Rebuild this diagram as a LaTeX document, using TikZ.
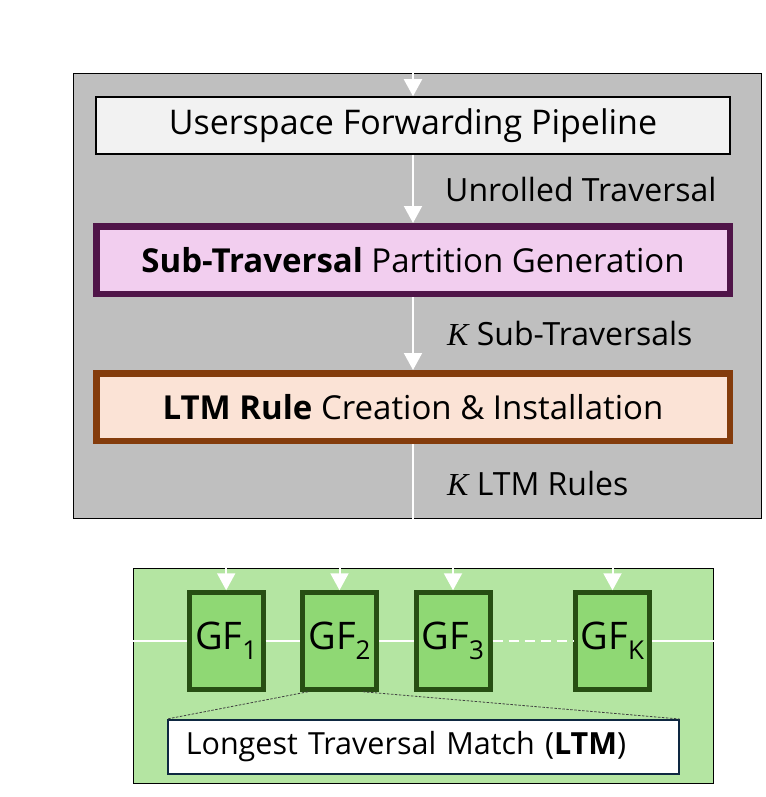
\documentclass[tikz,border=0pt]{standalone}
\usepackage{fontspec}
\setmainfont{Open Sans}
\newfontfamily\kfont{Liberation Serif}
\usetikzlibrary{arrows.meta,calc}

\definecolor{panelgray}{HTML}{BFBFBF}
\definecolor{pipefill}{HTML}{F2F2F2}
\definecolor{subfill}{HTML}{F2CEEF}
\definecolor{subline}{HTML}{501549}
\definecolor{rulefill}{HTML}{FBE3D6}
\definecolor{ruleline}{HTML}{843C0C}
\definecolor{hwgreen}{HTML}{B4E5A2}
\definecolor{gffill}{HTML}{8FD874}
\definecolor{gfline}{HTML}{274E13}
\definecolor{ltmline}{HTML}{0E2841}
\definecolor{zoomline}{HTML}{404040}

\newcommand{\Kvar}{{\kfont\itshape K}}
\newcommand{\gfsub}[1]{GF\raisebox{-10pt}{\fontsize{26}{26}\selectfont #1}}

\tikzset{
  stage/.style={draw, rectangle, minimum width=634pt, minimum height=57pt,
    inner sep=0pt, font=\fontsize{33}{38}\selectfont},
  thickstage/.style={stage, line width=6.5pt, minimum width=633.5pt, minimum height=67.5pt},
  flow/.style={draw=white, line width=2pt, -{Triangle[width=18pt,length=17pt]}},
  plainflow/.style={draw=white, line width=2pt},
  flowlabel/.style={anchor=west, inner sep=0pt, font=\fontsize{32}{36}\selectfont},
  gfbox/.style={draw=gfline, fill=gffill, line width=5pt, minimum width=74pt,
    minimum height=96.5pt, inner sep=0pt, font=\fontsize{38}{42}\selectfont},
  zoomedge/.style={draw=zoomline, line width=0.8pt, dash pattern=on 2.5pt off 1.5pt}
}

\begin{document}
\begin{tikzpicture}[x=1pt,y=-1pt]
\useasboundingbox (0,0) rectangle (765,797);

% control-plane panel
\node[draw, line width=1pt, fill=panelgray, rectangle, inner sep=0pt,
  minimum width=688pt, minimum height=444pt] (panel) at (417,296) {};

\node[stage, fill=pipefill, line width=1.5pt, font=\fontsize{34}{38}\selectfont] (usp) at (413,125.5)
  {Userspace Forwarding Pipeline};
\node[thickstage, draw=subline, fill=subfill] (sub) at (413,260)
  {\textbf{Sub-Traversal} Partition Generation};
\node[thickstage, draw=ruleline, fill=rulefill] (rule) at (413,407)
  {\textbf{LTM Rule} Creation \& Installation};

\coordinate (in) at (413,60);
\coordinate (out) at (413,520);

\draw[flow] (in) -- (usp.north);
\draw[flow] (usp.south) -- (sub.north);
\draw[flow] (sub.south) -- (rule.north);
\draw[plainflow] (rule.south) -- (out);

\node[flowlabel] (l1) at (445,189) {Unrolled Traversal};
\node[flowlabel] (l2) at (447,333) {\Kvar{} Sub-Traversals};
\node[flowlabel] (l3) at (447,483) {\Kvar{} LTM Rules};

% data-plane panel
\node[draw, line width=1pt, fill=hwgreen, rectangle, inner sep=0pt,
  minimum width=580pt, minimum height=215pt] (green) at (423,675.5) {};

\node[gfbox] (gf1) at (226.2,641) {\gfsub{1}};
\node[gfbox] (gf2) at (339.5,641) {\gfsub{2}};
\node[gfbox] (gf3) at (453,641) {\gfsub{3}};
\node[gfbox] (gfk) at (612.5,641) {\gfsub{K}};

\draw[plainflow] (green.west |- gf1.west) -- (gf1.west);
\draw[plainflow] (gf1.east) -- (gf2.west);
\draw[plainflow] (gf2.east) -- (gf3.west);
\draw[plainflow, dash pattern=on 10pt off 6pt] (gf3.east) -- (gfk.west);
\draw[plainflow] (gfk.east) -- (green.east |- gfk.east);

\foreach \g in {gf1,gf2,gf3,gfk}
  \draw[flow] (\g.north |- 0,558) -- (\g.north);

\node[draw=ltmline, fill=white, line width=1.5pt, anchor=north west,
  text width=475pt, align=left, inner xsep=18pt, minimum height=54pt,
  font=\fontsize{30.5}{34}\selectfont] (ltm) at (167,719)
  {Longest Traversal Match (\textbf{LTM})};

\coordinate (zl) at ($(gf2.south west)+(8,0)$);
\coordinate (zr) at ($(gf2.south east)+(-16,0)$);
\draw[zoomedge] (zl) -- (ltm.north west);
\draw[zoomedge] (zr) -- (ltm.north east);
\end{tikzpicture}
\end{document}
